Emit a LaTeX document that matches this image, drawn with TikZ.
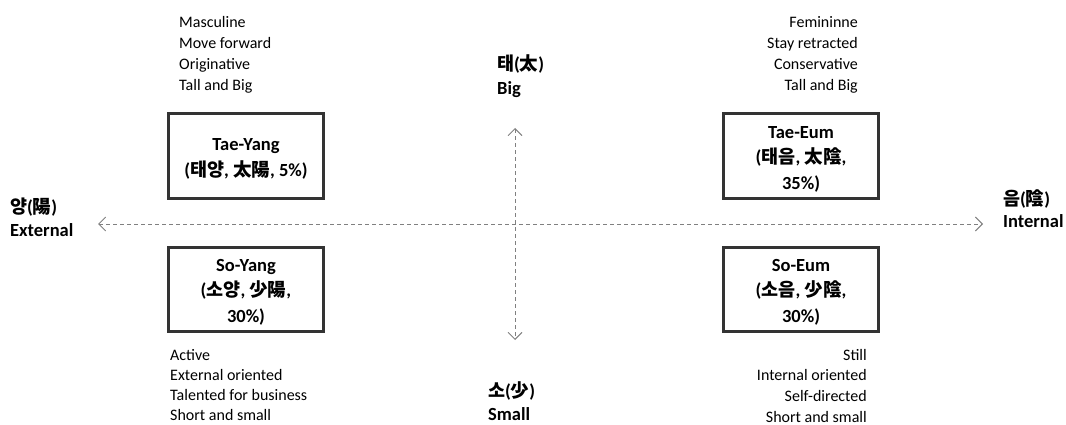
\documentclass[tikz,border=0pt]{standalone}
\usepackage{fontspec}
\setmainfont{Carlito}
\newfontfamily\krfont{Noto Sans CJK KR}
\usetikzlibrary{arrows.meta}
\newcommand\kr[1]{{\krfont #1}}

\begin{document}
\begin{tikzpicture}[x=1pt,y=-1pt,
  quad/.style={draw=black!80, line width=3pt, fill=white,
    minimum width=155pt, minimum height=84pt, align=center,
    font=\bfseries\fontsize{18.5}{25.5}\selectfont, inner sep=0pt},
  desc/.style={font=\fontsize{16}{20}\selectfont, inner sep=0pt},
  axislabel/.style={font=\bfseries\fontsize{18.5}{23}\selectfont,
    inner sep=0pt, anchor=base west},
  axis/.style={draw=black!50, line width=0.9pt, dash pattern=on 4pt off 3pt,
    {Straight Barb[length=7pt,width=14pt]}-{Straight Barb[length=7pt,width=14pt]}}
]
\useasboundingbox (0,0) rectangle (1066,425);

% the four temperament boxes
\node[quad] (taeyang) at (246,156) {\strut Tae-Yang\\(\kr{태양}, \kr{太陽}, 5\%)};
\node[quad] (soyang)  at (246,289) {\strut So-Yang\\(\kr{소양}, \kr{少陽},\\30\%)};
\node[quad] (taeeum)  at (801,156) {\strut Tae-Eum\\(\kr{태음}, \kr{太陰},\\35\%)};
\node[quad] (soeum)   at (801,289) {\strut So-Eum\\(\kr{소음}, \kr{少陰},\\30\%)};

% axes
\coordinate (axL) at (98,224);
\coordinate (axR) at (983,224);
\coordinate (axT) at (515,128);
\coordinate (axB) at (515,340);
\draw[axis] (axL) -- (axR);
\draw[axis] (axT) -- (axB);

% axis labels
\node[axislabel] (bigk)   at (497,71)  {\kr{태}(\kr{太})};
\node[axislabel] (big)    at (497,95)  {Big};
\node[axislabel] (smallk) at (488,397) {\kr{소}(\kr{少})};
\node[axislabel] (small)  at (488,420) {Small};
\node[axislabel] (extk)   at (10,213)  {\kr{양}(\kr{陽})};
\node[axislabel] (ext)    at (10,236)  {External};
\node[axislabel] (intk)   at (1003,205) {\kr{음}(\kr{陰})};
\node[axislabel] (int)    at (1003,227) {Internal};

% descriptions of each type
\foreach \t [count=\i] in {Masculine, Move forward, Originative, Tall and Big}
  \node[desc, anchor=base west] (tl\i) at (179,{28+20.7*(\i-1)}) {\t};
\foreach \t [count=\i] in {Femininne, Stay retracted, Conservative, Tall and Big}
  \node[desc, anchor=base east] (tr\i) at (858,{28+20.7*(\i-1)}) {\t};
\foreach \t [count=\i] in {Active, External oriented, Talented for business, Short and small}
  \node[desc, anchor=base west] (bl\i) at (170,{360+20*(\i-1)}) {\t};
\foreach \t [count=\i] in {Still, Internal oriented, Self-directed, Short and small}
  \node[desc, anchor=base east] (br\i) at (867,{360+20.7*(\i-1)}) {\t};
\end{tikzpicture}
\end{document}
